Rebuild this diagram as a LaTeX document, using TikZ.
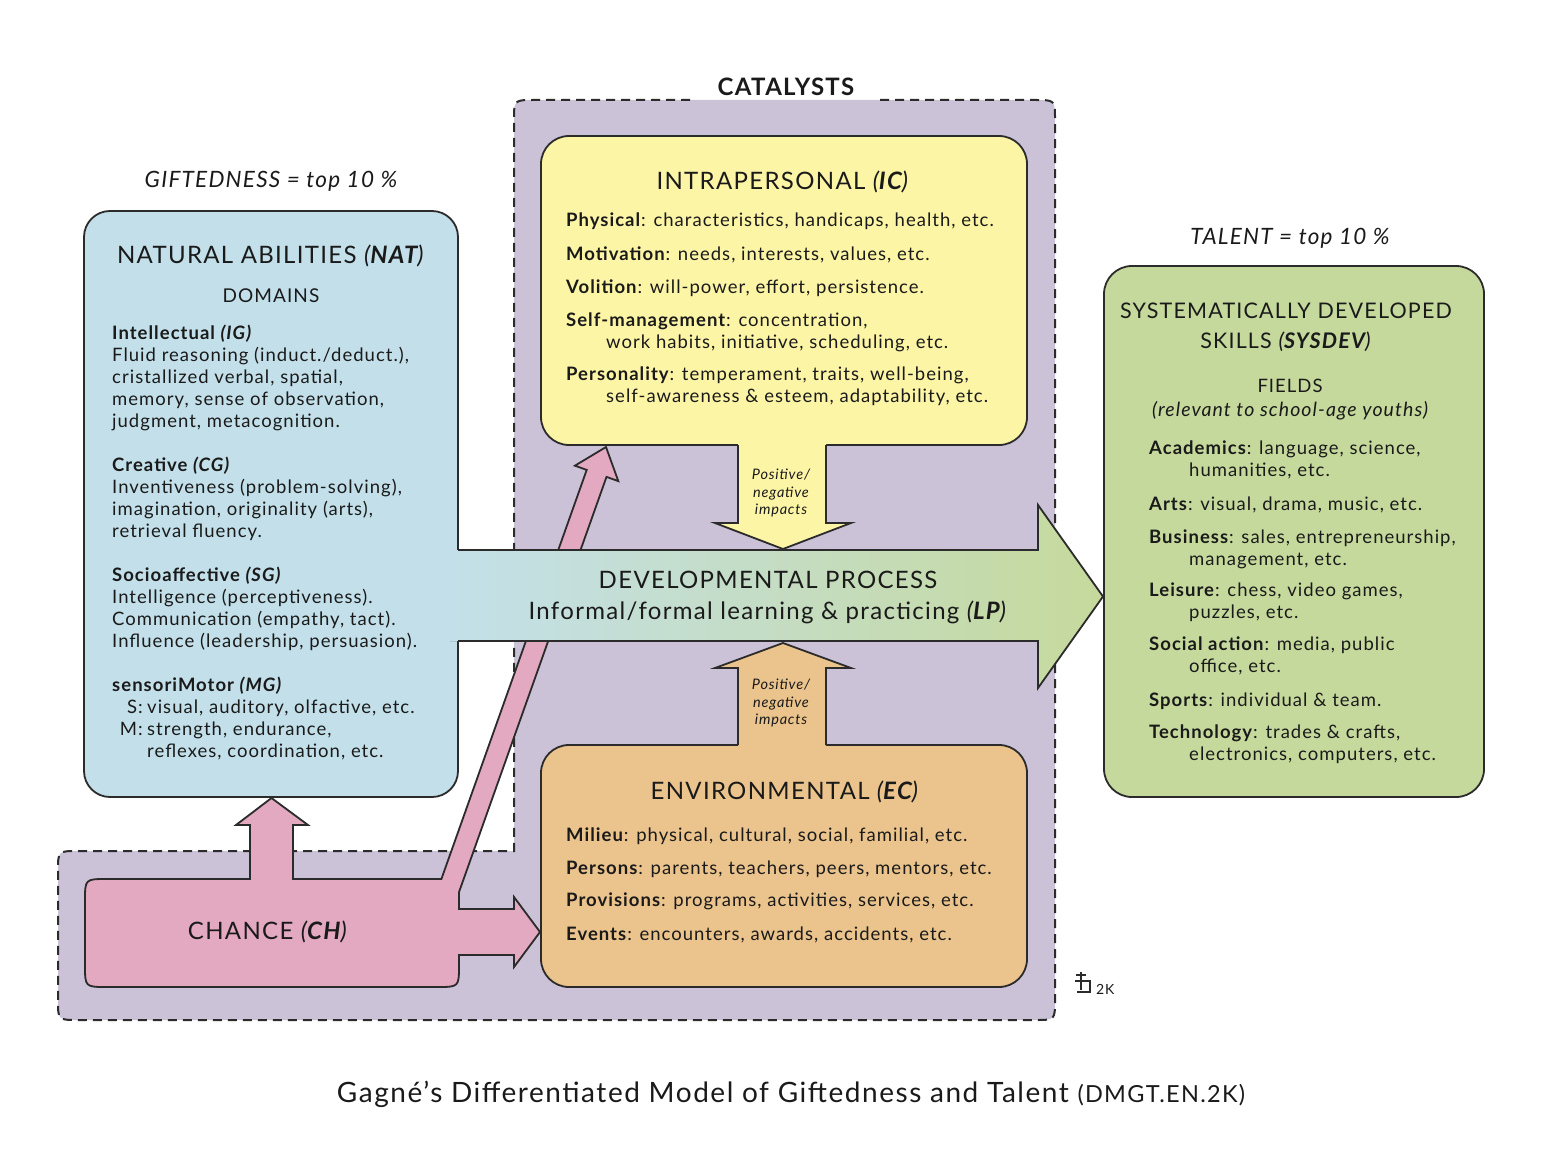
\documentclass[tikz,border=0pt]{standalone}
\usepackage{fontspec}
\setmainfont{Lato}[LetterSpace=5.5]
\definecolor{natc}{HTML}{C3E0EA}
\definecolor{icc}{HTML}{FDF5A6}
\definecolor{ecc}{HTML}{EBC38C}
\definecolor{talc}{HTML}{C6D99C}
\definecolor{chc}{HTML}{E2A9C1}
\definecolor{catc}{HTML}{CBC2D7}
\definecolor{edge}{HTML}{2B2B2B}
\definecolor{ink}{HTML}{1A1A1A}
\begin{document}
\begin{tikzpicture}[x=1pt,y=-1pt,
  boxline/.style={draw=edge, line width=1.8pt},
  dashline/.style={draw=edge, line width=2pt, dash pattern=on 9pt off 6pt},
  txt/.style={anchor=base west, inner sep=0pt, font=\fontsize{18.5}{21}\selectfont, text=ink},
  txtr/.style={anchor=base east, inner sep=0pt, font=\fontsize{18.5}{21}\selectfont, text=ink},
  ttl/.style={anchor=base, inner sep=0pt, font=\fontsize{24}{28}\selectfont, text=ink},
  gttl/.style={anchor=base, inner sep=0pt, font=\fontsize{21.5}{25}\selectfont, text=ink},
  sub/.style={anchor=base, inner sep=0pt, font=\fontsize{19}{22}\selectfont, text=ink},
  imp/.style={anchor=base, inner sep=0pt, font=\fontsize{14.5}{17}\selectfont\itshape, text=ink},
  hdr/.style={anchor=base, inner sep=0pt, font=\fontsize{22.5}{26}\selectfont\itshape, text=ink}]
\useasboundingbox[fill=white] (0,0) rectangle (1554,1166);

% catalysts region
\fill[catc] (534,100) -- (1035,100) .. controls (1055,100) .. (1055,120) -- (1055,1000)
  .. controls (1055,1020) .. (1035,1020) -- (78,1020) .. controls (58,1020) .. (58,1000)
  -- (58,871) .. controls (58,851) .. (78,851) -- (514,851) -- (514,120)
  .. controls (514,100) .. (534,100) -- cycle;
\draw[dashline] (880,100) -- (1035,100) .. controls (1055,100) .. (1055,120) -- (1055,1000)
  .. controls (1055,1020) .. (1035,1020) -- (78,1020) .. controls (58,1020) .. (58,1000)
  -- (58,871) .. controls (58,851) .. (78,851) -- (514,851) -- (514,120)
  .. controls (514,100) .. (534,100) -- (692,100);

% boxes
\draw[boxline, fill=natc, rounded corners=26pt] (84,211) rectangle (458,797);
\draw[boxline, fill=icc, rounded corners=28pt] (541,136) rectangle (1027,445);
\draw[boxline, fill=ecc, rounded corners=28pt] (541,745) rectangle (1027,987);
\draw[boxline, fill=talc, rounded corners=28pt] (1104,266) rectangle (1484,797);

% chance shape with its three arrows
\draw[boxline, fill=chc, line join=miter] (107,879) -- (250,879) -- (250,825) -- (236,825) -- (271.5,798)
  -- (308,825) -- (293,825) -- (293,879) -- (441.4,879)
  -- (586.7,469.9) -- (574.9,465.7) -- (606,447) -- (618.3,481.1) -- (606.5,476.9)
  -- (459,892.1) -- (459,909) -- (514,909) -- (514,897) -- (540,932) -- (514,967) -- (514,955)
  -- (459,955) -- (459,965) .. controls (459,987) .. (437,987) -- (107,987)
  .. controls (85,987) .. (85,965) -- (85,901) .. controls (85,879) .. (107,879) -- cycle;

% yellow down arrow
\fill[icc] (738,440) -- (738,523) -- (715,523) -- (783,549) -- (851,523) -- (826,523) -- (826,440) -- cycle;
\draw[boxline, line join=miter] (738,445) -- (738,523) -- (715,523) -- (783,549) -- (851,523) -- (826,523) -- (826,445);
% orange up arrow
\fill[ecc] (738,750) -- (738,668) -- (715,668) -- (783,643) -- (851,668) -- (826,668) -- (826,750) -- cycle;
\draw[boxline, line join=miter] (738,745) -- (738,668) -- (715,668) -- (783,643) -- (851,668) -- (826,668) -- (826,745);

% main developmental arrow
\fill[left color=natc, right color=talc] (450,550) -- (1038,550) -- (1038,505) -- (1103,596.5) -- (1038,688) -- (1038,641) -- (450,641) -- cycle;
\draw[boxline, line join=miter] (458,550) -- (1038,550) -- (1038,505) -- (1103,596.5) -- (1038,688) -- (1038,641) -- (458,641);

% headings
\node[anchor=base, inner sep=0pt, font=\fontsize{24}{28}\selectfont\bfseries, text=ink] (cat) at (786,96) {CATALYSTS};
\node[hdr] (gift) at (271,188) {GIFTEDNESS = top 10 \%};
\node[hdr] (tal) at (1290,244) {TALENT = top 10 \%};

% NAT
\node[ttl] (natt) at (271,263) {NATURAL ABILITIES \textit{(\textbf{NAT})}};
\node[sub] (dom) at (271,302) {DOMAINS};
\node[txt] (n1) at (112,339) {\textbf{Intellectual \textit{(IG)}}};
\node[txt] (n2) at (112,361) {Fluid reasoning (induct./deduct.),};
\node[txt] (n3) at (112,383) {cristallized verbal, spatial,};
\node[txt] (n4) at (112,405) {memory, sense of observation,};
\node[txt] (n5) at (112,427) {judgment, metacognition.};
\node[txt] (n6) at (112,471) {\textbf{Creative \textit{(CG)}}};
\node[txt] (n7) at (112,493) {Inventiveness (problem-solving),};
\node[txt] (n8) at (112,515) {imagination, originality (arts),};
\node[txt] (n9) at (112,537) {retrieval fluency.};
\node[txt] (n10) at (112,581) {\textbf{Socioaffective \textit{(SG)}}};
\node[txt] (n11) at (112,603) {Intelligence (perceptiveness).};
\node[txt] (n12) at (112,625) {Communication (empathy, tact).};
\node[txt] (n13) at (112,647) {Influence (leadership, persuasion).};
\node[txt] (n14) at (112,691) {\textbf{sensoriMotor \textit{(MG)}}};
\node[txtr] (n15a) at (143,713) {S:};
\node[txt] (n15) at (147,713) {visual, auditory, olfactive, etc.};
\node[txtr] (n16a) at (143,735) {M:};
\node[txt] (n16) at (147,735) {strength, endurance,};
\node[txt] (n17) at (147,757) {reflexes, coordination, etc.};

% IC
\node[ttl] (ict) at (783,190) {INTRAPERSONAL \textit{(\textbf{IC})}};
\node[txt] (i1) at (566,227) {\textbf{Physical}: characteristics, handicaps, health, etc.};
\node[txt] (i2) at (566,260) {\textbf{Motivation}: needs, interests, values, etc.};
\node[txt] (i3) at (566,293) {\textbf{Volition}: will-power, effort, persistence.};
\node[txt] (i4) at (566,326) {\textbf{Self-management}: concentration,};
\node[txt] (i5) at (606,348) {work habits, initiative, scheduling, etc.};
\node[txt] (i6) at (566,380) {\textbf{Personality}: temperament, traits, well-being,};
\node[txt] (i7) at (606,402) {self-awareness \& esteem, adaptability, etc.};

% impacts
\node[imp] (p1) at (781,479) {Positive/};
\node[imp] (p2) at (781,497) {negative};
\node[imp] (p3) at (781,514) {impacts};
\node[imp] (q1) at (781,689) {Positive/};
\node[imp] (q2) at (781,707) {negative};
\node[imp] (q3) at (781,724) {impacts};

% developmental process
\node[ttl] (dp1) at (768,588) {DEVELOPMENTAL PROCESS};
\node[ttl] (dp2) at (768,619) {Informal/formal learning \& practicing \textit{(\textbf{LP})}};

% EC
\node[ttl] (ect) at (785,799) {ENVIRONMENTAL \textit{(\textbf{EC})}};
\node[txt] (e1) at (566,841) {\textbf{Milieu}: physical, cultural, social, familial, etc.};
\node[txt] (e2) at (566,874) {\textbf{Persons}: parents, teachers, peers, mentors, etc.};
\node[txt] (e3) at (566,906) {\textbf{Provisions}: programs, activities, services, etc.};
\node[txt] (e4) at (566,940) {\textbf{Events}: encounters, awards, accidents, etc.};

% CHANCE
\node[ttl] (cht) at (268,939) {CHANCE \textit{(\textbf{CH})}};

% TALENT box
\node[gttl] (tt1) at (1286,318) {SYSTEMATICALLY DEVELOPED};
\node[gttl] (tt2) at (1286,348) {SKILLS \textit{(\textbf{SYSDEV})}};
\node[anchor=base, inner sep=0pt, font=\fontsize{18.5}{21}\selectfont, text=ink] (fld) at (1290,392) {FIELDS};
\node[anchor=base, inner sep=0pt, font=\fontsize{19.5}{22}\selectfont\itshape, text=ink] (rel) at (1290,416) {(relevant to school-age youths)};
\node[txt] (t1) at (1149,454) {\textbf{Academics}: language, science,};
\node[txt] (t2) at (1189,476) {humanities, etc.};
\node[txt] (t3) at (1149,510) {\textbf{Arts}: visual, drama, music, etc.};
\node[txt] (t4) at (1149,543) {\textbf{Business}: sales, entrepreneurship,};
\node[txt] (t5) at (1189,565) {management, etc.};
\node[txt] (t6) at (1149,596) {\textbf{Leisure}: chess, video games,};
\node[txt] (t7) at (1189,618) {puzzles, etc.};
\node[txt] (t8) at (1149,650) {\textbf{Social action}: media, public};
\node[txt] (t9) at (1189,672) {office, etc.};
\node[txt] (t10) at (1149,706) {\textbf{Sports}: individual \& team.};
\node[txt] (t11) at (1149,738) {\textbf{Technology}: trades \& crafts,};
\node[txt] (t12) at (1189,760) {electronics, computers, etc.};

% 2K logo
\draw[edge, line width=1.3pt] (1076,975) -- (1086,975) (1081,972) -- (1081,990)
  (1075,981) -- (1090,981) -- (1090,992) -- (1077,992);
\node[anchor=base west, inner sep=0pt, font=\fontsize{14}{16}\selectfont, text=ink] (two) at (1096,994) {2K};

% caption
\node[anchor=base, inner sep=0pt, text=ink] (cap) at (791,1102) {\fontsize{28}{32}\selectfont Gagné's Differentiated Model of Giftedness and Talent \fontsize{23.5}{27}\selectfont(DMGT.EN.2K)};
\end{tikzpicture}
\end{document}
